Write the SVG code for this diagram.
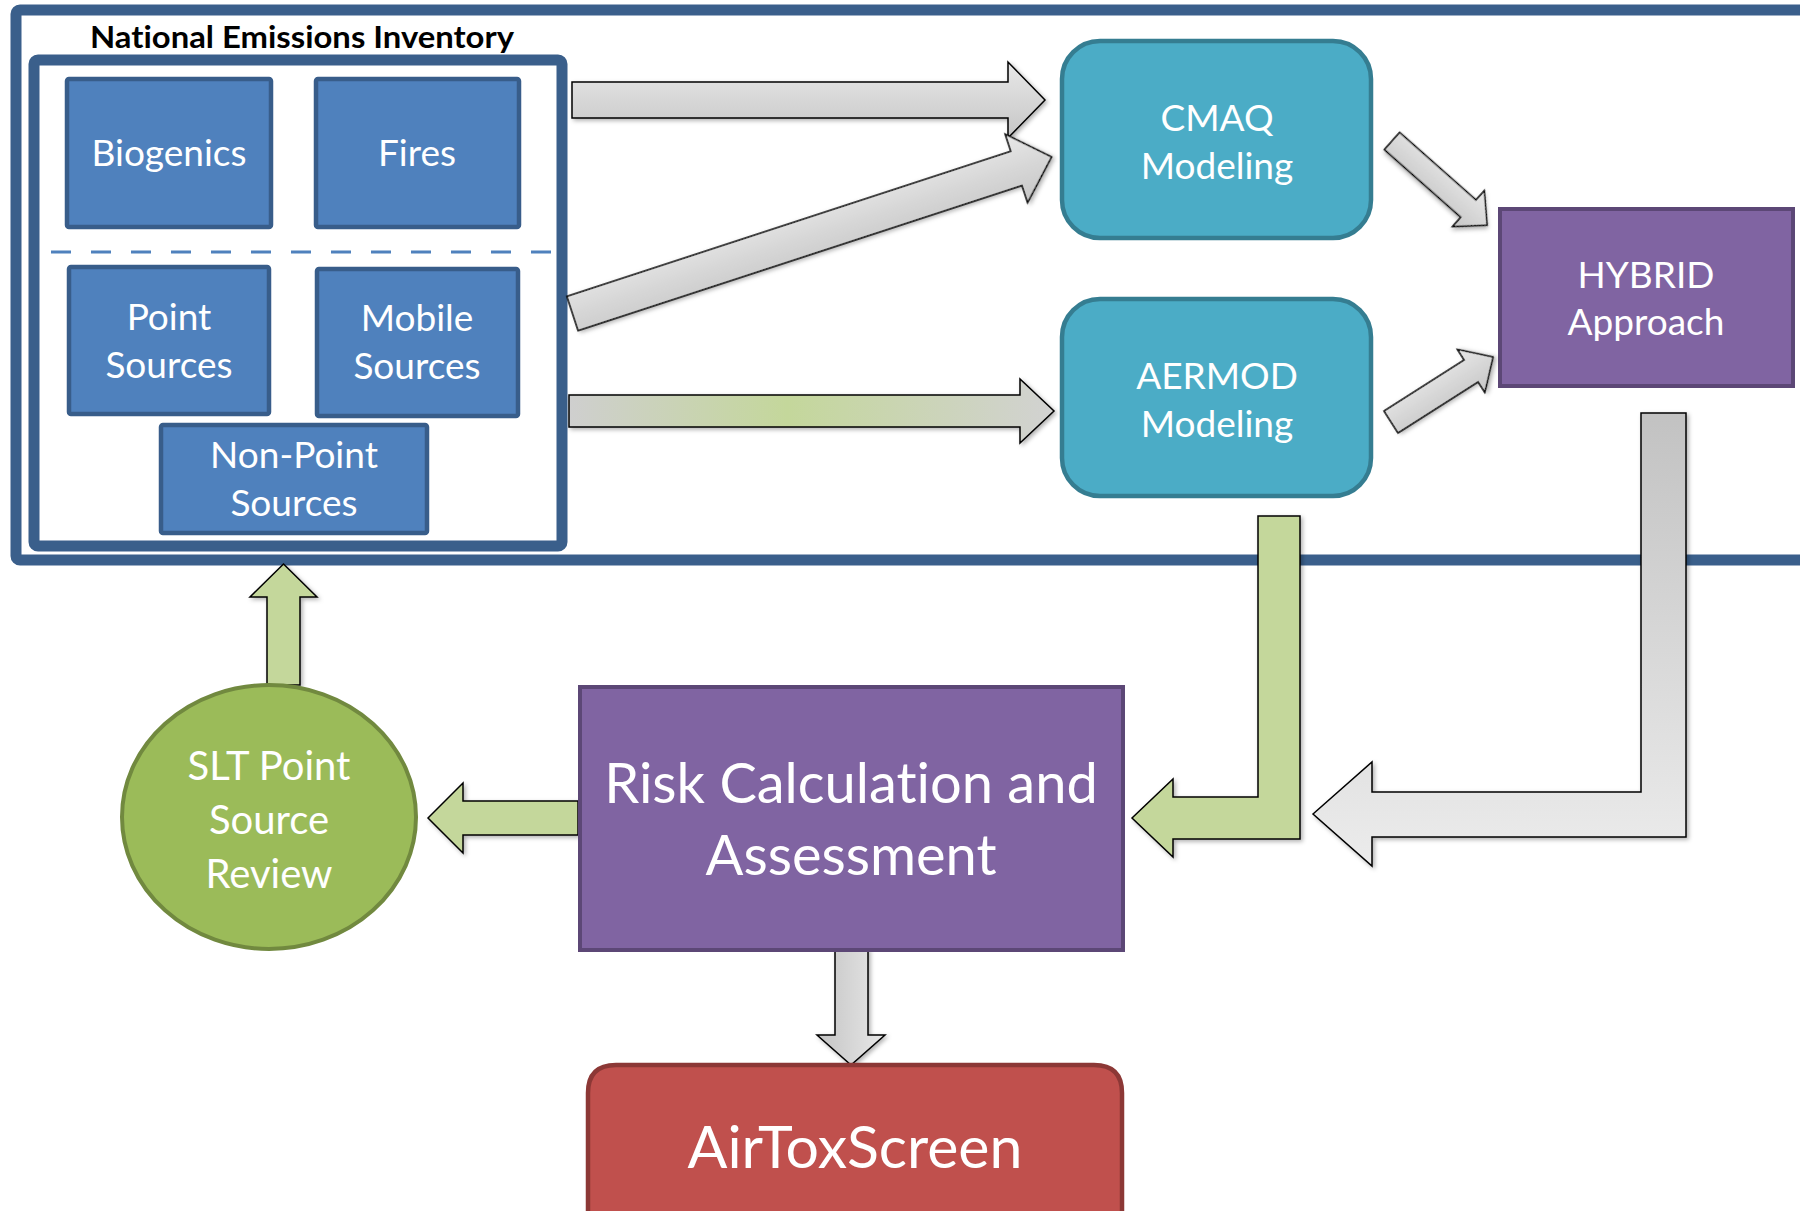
<svg xmlns="http://www.w3.org/2000/svg" width="1800" height="1211" viewBox="0 0 1800 1211">
<style>
.frame{fill:#ffffff;stroke:#3a5f8b;stroke-width:11}
.src{fill:#4f81bd;stroke:#385d8a;stroke-width:4.5}
.teal{fill:#4bacc6;stroke:#357d91;stroke-width:4.5}
.purple{fill:#8064a2;stroke:#5c4776;stroke-width:4}
.green{fill:#9bbb59;stroke:#71893f;stroke-width:4}
.red{fill:#c0504d;stroke:#8c3836;stroke-width:4.5}
.t{font-family:Lato,"Liberation Sans",sans-serif;fill:#ffffff;text-anchor:middle;font-variant-ligatures:none}
.s37{font-size:37px}
.s40{font-size:40px}
.s56{font-size:56px}
.title{font-family:Lato,"Liberation Sans",sans-serif;font-weight:bold;font-size:30px;fill:#000000;font-variant-ligatures:none}
.arr{stroke:#000000;stroke-width:1.5;stroke-linejoin:miter;filter:url(#sh)}
.ga{fill:#c4d79b}
</style>
<defs>
<filter id="sh" x="-10%" y="-10%" width="130%" height="130%">
<feDropShadow dx="2" dy="2" stdDeviation="2" flood-color="#000000" flood-opacity="0.3"/>
</filter>
<linearGradient id="gv" x1="0" y1="0" x2="0" y2="1">
<stop offset="0" stop-color="#e8e8e8"/>
<stop offset="1" stop-color="#c6c6c6"/>
</linearGradient>
<linearGradient id="gv2" x1="0" y1="0" x2="0" y2="1">
<stop offset="0" stop-color="#c2c2c2"/>
<stop offset="1" stop-color="#ececec"/>
</linearGradient>
<linearGradient id="gh" x1="0" y1="0" x2="1" y2="0">
<stop offset="0" stop-color="#c4c4c4"/>
<stop offset="1" stop-color="#e8e8e8"/>
</linearGradient>
<linearGradient id="ggreen" x1="0" y1="0" x2="1" y2="0">
<stop offset="0" stop-color="#cfcfcf"/>
<stop offset="0.45" stop-color="#c4d79b"/>
<stop offset="1" stop-color="#d2d2d2"/>
</linearGradient>
</defs>

<g id="outer-frame">
<rect class="frame" x="16" y="10" width="1810" height="550" rx="4"/>
</g>

<g id="nei">
<text class="title" x="90" y="48" textLength="424" lengthAdjust="spacingAndGlyphs">National Emissions Inventory</text>
<rect class="frame" x="34" y="60" width="528" height="486" rx="4" stroke-width="10"/>
<line x1="51" y1="252" x2="562" y2="252" stroke="#4f81bd" stroke-width="3" stroke-dasharray="20 20"/>
</g>

<g id="biogenics">
<rect class="src" x="67" y="79" width="204" height="148" rx="2"/>
<text class="t s37" x="169" y="166">Biogenics</text>
</g>
<g id="fires">
<rect class="src" x="316" y="79" width="203" height="148" rx="2"/>
<text class="t s37" x="417" y="166">Fires</text>
</g>
<g id="point-sources">
<rect class="src" x="69" y="267" width="200" height="147" rx="2"/>
<text class="t s37" x="169" y="330">Point</text>
<text class="t s37" x="169" y="378">Sources</text>
</g>
<g id="mobile-sources">
<rect class="src" x="317" y="269" width="201" height="147" rx="2"/>
<text class="t s37" x="417" y="331">Mobile</text>
<text class="t s37" x="417" y="379">Sources</text>
</g>
<g id="non-point-sources">
<rect class="src" x="161" y="425" width="266" height="108" rx="2"/>
<text class="t s37" x="294" y="468">Non-Point</text>
<text class="t s37" x="294" y="516">Sources</text>
</g>

<g id="cmaq">
<rect class="teal" x="1062" y="41" width="309" height="197" rx="38"/>
<text class="t s37" x="1217" y="131">CMAQ</text>
<text class="t s37" x="1217" y="179">Modeling</text>
</g>
<g id="aermod">
<rect class="teal" x="1062" y="299" width="309" height="197" rx="38"/>
<text class="t s37" x="1217" y="389">AERMOD</text>
<text class="t s37" x="1217" y="437">Modeling</text>
</g>
<g id="hybrid">
<rect class="purple" x="1500" y="209" width="293" height="177"/>
<text class="t s37" x="1646" y="288">HYBRID</text>
<text class="t s37" x="1646" y="335">Approach</text>
</g>

<g id="connectors">
<polygon class="arr" fill="url(#gv)" points="572,82 1008,82 1008,62 1045,100 1008,138 1008,118 572,118"/>
<polygon class="arr" fill="url(#gv)" transform="translate(572.5,313.5) rotate(-18.1)" points="0,-18 467,-18 467,-36 504,0 467,36 467,18 0,18"/>
<polygon class="arr" fill="url(#ggreen)" points="569,395 1020,395 1020,379 1054,411 1020,443 1020,427 569,427"/>
<polygon class="arr" fill="url(#gv)" transform="translate(1392,141) rotate(41.5)" points="0,-11.5 102,-11.5 102,-24 127,0 102,24 102,11.5 0,11.5"/>
<polygon class="arr" fill="url(#gv)" transform="translate(1391,422) rotate(-32.5)" points="0,-13 95,-13 95,-25.5 121,0 95,25.5 95,13 0,13"/>
<polygon class="arr ga" points="1132,818 1173,779 1173,797 1258,797 1258,516 1300,516 1300,839 1173,839 1173,857"/>
<polygon class="arr" fill="url(#gv2)" points="1313,814 1372,762 1372,792 1641,792 1641,413 1686,413 1686,837 1372,837 1372,866"/>
<polygon class="arr ga" points="428,818 463,783 463,801 578,801 578,835 463,835 463,853"/>
<polygon class="arr ga" points="283.5,564 317,597 300,597 300,685 267,685 267,597 250,597"/>
<polygon class="arr" fill="url(#gh)" points="835,949 868,949 868,1035 885,1035 851,1065 817,1035 835,1035"/>
</g>

<g id="risk">
<rect class="purple" x="580" y="687" width="543" height="263"/>
<text class="t s56" x="851" y="803">Risk Calculation and</text>
<text class="t s56" x="851" y="875">Assessment</text>
</g>
<g id="slt-review">
<ellipse class="green" cx="269" cy="817" rx="147" ry="132"/>
<text class="t s40" x="269" y="780">SLT Point</text>
<text class="t s40" x="269" y="834">Source</text>
<text class="t s40" x="269" y="888">Review</text>
</g>
<g id="airtoxscreen">
<path class="red" d="M588,1220 V1093 Q588,1065 616,1065 H1094 Q1122,1065 1122,1093 V1220 Z"/>
<text class="t" x="855" y="1168" font-size="59">AirToxScreen</text>
</g>
</svg>
